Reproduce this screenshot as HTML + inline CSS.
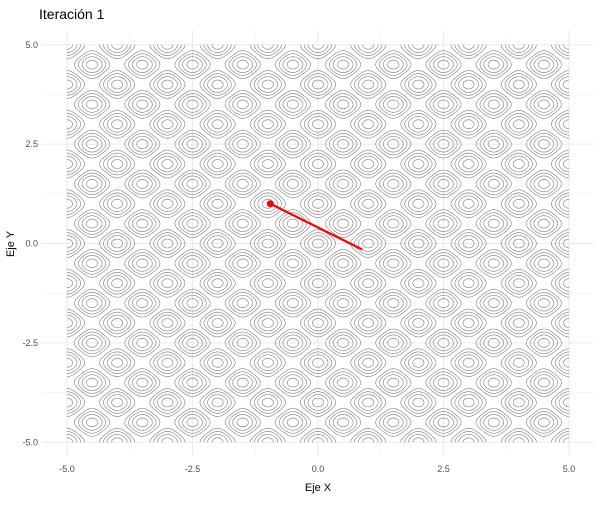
<!DOCTYPE html>
<html><head><meta charset="utf-8"><style>
body{margin:0;background:#fff;font-family:"Liberation Sans",sans-serif}
</style></head><body>
<svg id="chart" width="600" height="500" xmlns="http://www.w3.org/2000/svg" font-family="Liberation Sans, sans-serif">
<text x="39" y="19" font-size="14" fill="#000">Iteración 1</text>
<g id="grid"></g>
<g id="contours"></g>
<g id="path"></g>
<g id="axes"></g>
<text x="318" y="491" font-size="11" text-anchor="middle">Eje X</text>
<text x="14" y="244" font-size="11" text-anchor="middle" transform="rotate(-90 14 244)">Eje Y</text>
</svg>
<script>
const xTicks=[-5,-2.5,0,2.5,5];
const yTicks=[-5,-2.5,0,2.5,5];
const tickLabels=["-5.0","-2.5","0.0","2.5","5.0"];
const levels=[-1.75,-1.3,-0.85,-0.4,0.4,0.85,1.3,1.75];
const pathX=[-0.95,0.88];
const pathY=[1.0,-0.15];
const NS="http://www.w3.org/2000/svg";
const sx=v=>318+v*50.2, sy=v=>243.5-v*39.75;
function mk(t,a,p){const e=document.createElementNS(NS,t);for(const k in a)e.setAttribute(k,a[k]);p.appendChild(e);return e;}
const grid=document.getElementById('grid');
const minors=[-3.75,-1.25,1.25,3.75];
minors.forEach(v=>{
 const a=mk('line',{x1:sx(v),x2:sx(v),y1:30,y2:455,stroke:'#f2f2f2','stroke-width':0.6},grid);
 
 const b=mk('line',{x1:42,x2:594,y1:sy(v),y2:sy(v),stroke:'#f2f2f2','stroke-width':0.6},grid);
 
});
xTicks.forEach(v=>{
 const a=mk('line',{x1:sx(v),x2:sx(v),y1:30,y2:455,stroke:'#ebebeb','stroke-width':1.1},grid);
 
});
yTicks.forEach(v=>{
 const b=mk('line',{x1:42,x2:594,y1:sy(v),y2:sy(v),stroke:'#ebebeb','stroke-width':1.1},grid);
 
});
const axes=document.getElementById('axes');
xTicks.forEach((v,i)=>{const t=mk('text',{x:sx(v),y:472,'font-size':9,'text-anchor':'middle',fill:'#4d4d4d'},axes);t.textContent=tickLabels[i];
 });
yTicks.forEach((v,i)=>{const t=mk('text',{x:38,y:sy(v)+3,'font-size':9,'text-anchor':'end',fill:'#4d4d4d'},axes);t.textContent=tickLabels[i];
 });
const f=(x,y)=>Math.cos(2*Math.PI*x)+Math.cos(2*Math.PI*y);
const N=200,x0=-5,x1=5,h=(x1-x0)/N;
const V=[];for(let j=0;j<=N;j++){V[j]=[];for(let i=0;i<=N;i++)V[j][i]=f(x0+i*h,x0+j*h);}
let d='';
for(const L of levels){
 for(let j=0;j<N;j++)for(let i=0;i<N;i++){
  const a=V[j][i],b=V[j][i+1],c=V[j+1][i+1],e=V[j+1][i];
  const pts=[];
  const ed=(va,vb,xa,ya,xb,yb)=>{if((va<L)!==(vb<L)){const t=(L-va)/(vb-va);pts.push([xa+(xb-xa)*t,ya+(yb-ya)*t]);}};
  const X=x0+i*h,Y=x0+j*h;
  ed(a,b,X,Y,X+h,Y);ed(b,c,X+h,Y,X+h,Y+h);ed(c,e,X+h,Y+h,X,Y+h);ed(e,a,X,Y+h,X,Y);
  for(let k=0;k+1<pts.length;k+=2)d+=`M${sx(pts[k][0]).toFixed(1)} ${sy(pts[k][1]).toFixed(1)}L${sx(pts[k+1][0]).toFixed(1)} ${sy(pts[k+1][1]).toFixed(1)}`;
 }
}
const cp=mk('path',{d:d,fill:'none',stroke:'#7a7a7a','stroke-width':0.6},document.getElementById('contours'));

const pg=document.getElementById('path');
let pd='';pathX.forEach((v,i)=>{pd+=(i?'L':'M')+sx(v)+' '+sy(pathY[i]);});
const ln=mk('path',{d:pd,fill:'none',stroke:'#ff0000','stroke-width':2.2},pg);

const pt=mk('circle',{cx:sx(pathX[0]),cy:sy(pathY[0]),r:3.5,fill:'#ff0000'},pg);

</script>
</body></html>
